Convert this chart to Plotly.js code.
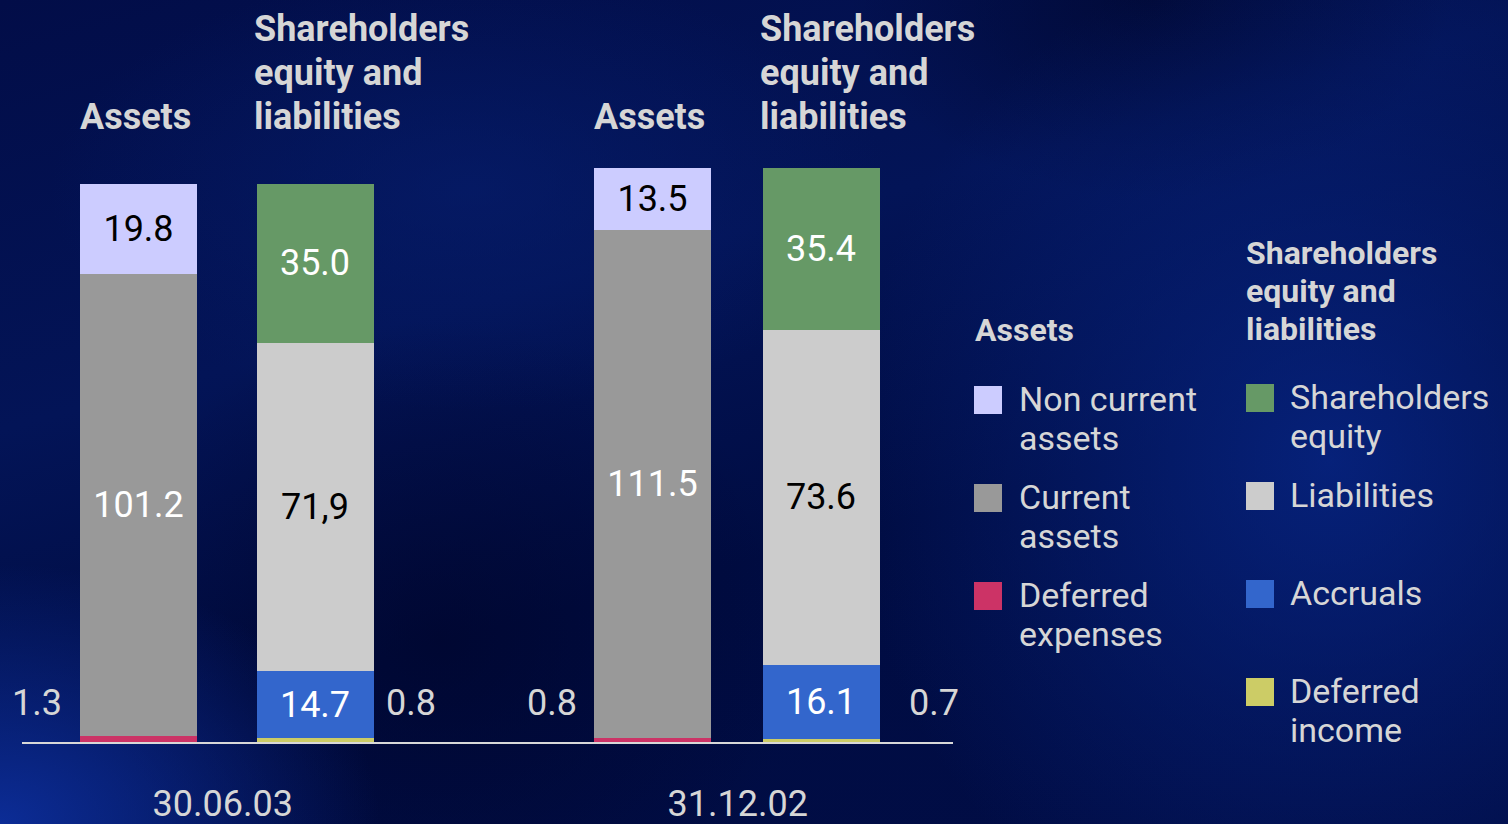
<!DOCTYPE html>
<html>
<head>
<meta charset="utf-8">
<script src="https://cdn.plot.ly/plotly-3.0.1.min.js"></script>
<style>
  html, body { margin: 0; padding: 0; width: 1508px; height: 824px; overflow: hidden; }
  body {
    background-color: #000e4c;
    background-image:
      radial-gradient(ellipse 380px 260px at 0px 824px, rgba(14,50,165,0.85), rgba(14,50,165,0) 100%),
      radial-gradient(ellipse 480px 520px at 1330px 460px, rgba(8,40,140,0.75), rgba(8,40,140,0) 100%),
      radial-gradient(ellipse 420px 220px at 470px 190px, rgba(6,30,110,0.6), rgba(6,30,110,0) 100%),
      radial-gradient(ellipse 360px 320px at 440px 640px, rgba(0,4,40,0.6), rgba(0,4,40,0) 100%),
      radial-gradient(ellipse 300px 200px at 1150px 0px, rgba(0,5,40,0.6), rgba(0,5,40,0) 100%),
      linear-gradient(165deg, #020d48 0%, #031457 35%, #000c42 62%, #010d46 100%);
  }
  #chart { width: 1508px; height: 824px; }
</style>
</head>
<body>
<div id="chart"></div>
<script>
// ---------------- data ----------------
var dates = ["30.06.03", "31.12.02"];

var nonCurrentAssets = [19.8, 13.5];
var currentAssets    = [101.2, 111.5];
var deferredExpenses = [1.3, 0.8];

var shareholdersEquity = [35.0, 35.4];
var liabilities        = [71.9, 73.6];
var accruals           = [14.7, 16.1];
var deferredIncome     = [0.8, 0.7];

var liabilitiesLabels = ["71,9", "73.6"];

var seriesNames = {
  nonCurrent: ["Non current", "assets"],
  current: ["Current", "assets"],
  defExp: ["Deferred", "expenses"],
  equity: ["Shareholders", "equity"],
  liab: ["Liabilities"],
  accr: ["Accruals"],
  defInc: ["Deferred", "income"]
};
var groupTitleAssets = ["Assets"];
var groupTitleLiab = ["Shareholders", "equity and", "liabilities"];

var colors = {
  nonCurrent: "#ccccff",
  current: "#999999",
  defExp: "#cc3366",
  equity: "#669966",
  liab: "#cccccc",
  accr: "#3366cc",
  defInc: "#cccc66"
};

// ---------------- layout geometry ----------------
var W = 1508, H = 824;
var M = {l: 22, r: 555, t: 150, b: 82};
var PW = W - M.l - M.r, PH = H - M.t - M.b;
var PX_PER_UNIT = 4.5627;
var yMax = PH / PX_PER_UNIT;

var assetsX = [138.5, 652.5];
var liabX = [315, 821];
var barW = 117;
function px(x) { return (x - M.l) / PW; }
function py(y) { return (H - M.b - y) / PH; }

var FONT = "Roboto, 'Liberation Sans', sans-serif";
var TXT = "#d6d6d6";

function fmt(v) { return v.toFixed(1); }

function barTrace(name, xs, ys, color, labels, textColor) {
  return {
    type: "bar", name: name, x: xs, y: ys, width: barW,
    marker: {color: color, line: {width: 0}},
    text: labels, textposition: labels ? "inside" : "none",
    insidetextanchor: "middle", textangle: 0, constraintext: "none",
    insidetextfont: {family: FONT, size: 36, color: textColor || "#fff"},
    hoverinfo: "name+y", showlegend: false, cliponaxis: false
  };
}

var data = [
  barTrace("Deferred expenses", assetsX, deferredExpenses, colors.defExp, null),
  barTrace("Current assets", assetsX, currentAssets, colors.current, currentAssets.map(fmt), "#ffffff"),
  barTrace("Non current assets", assetsX, nonCurrentAssets, colors.nonCurrent, nonCurrentAssets.map(fmt), "#000000"),
  barTrace("Deferred income", liabX, deferredIncome, colors.defInc, null),
  barTrace("Accruals", liabX, accruals, colors.accr, accruals.map(fmt), "#ffffff"),
  barTrace("Liabilities", liabX, liabilities, colors.liab, liabilitiesLabels, "#000000"),
  barTrace("Shareholders equity", liabX, shareholdersEquity, colors.equity, shareholdersEquity.map(fmt), "#ffffff")
];

var annotations = [];
var shapes = [];

function addText(text, x, y, size, bold, color, xanchor) {
  annotations.push({
    xref: "paper", yref: "paper", x: px(x), y: py(y),
    xanchor: xanchor || "left", yanchor: "middle", showarrow: false,
    text: bold ? "<b>" + text + "</b>" : text,
    font: {family: FONT, size: size, color: color || TXT}
  });
}

// outside labels for the thin bottom segments
var defLabelY = 703;
addText(fmt(deferredExpenses[0]), 64, defLabelY, 36, false, TXT, "right");
addText(fmt(deferredIncome[0]), 384, defLabelY, 36, false, TXT, "left");
addText(fmt(deferredExpenses[1]), 579, defLabelY, 36, false, TXT, "right");
addText(fmt(deferredIncome[1]), 907, defLabelY, 36, false, TXT, "left");

// column titles above the bars
for (var g = 0; g < 2; g++) {
  addText(groupTitleAssets[0], assetsX[g] - barW / 2 - 2, 117, 36, true);
  for (var i = 0; i < groupTitleLiab.length; i++) {
    addText(groupTitleLiab[i], liabX[g] - barW / 2 - 5, 29 + 44 * i, 36, true);
  }
}

// custom legend
addText(groupTitleAssets[0], 973, 330, 32, true);
for (var i = 0; i < groupTitleLiab.length; i++) addText(groupTitleLiab[i], 1244, 253 + 38 * i, 32, true);

function legendItem(key, sx, cy, tx) {
  shapes.push({type: "rect", xref: "paper", yref: "paper",
    x0: px(sx), x1: px(sx + 28), y0: py(cy + 14), y1: py(cy - 14),
    fillcolor: colors[key], line: {width: 0}, layer: "above"});
  var lines = seriesNames[key];
  for (var i = 0; i < lines.length; i++) addText(lines[i], tx, cy - 1 + 39 * i, 34, false);
}
legendItem("nonCurrent", 974, 400, 1017);
legendItem("current", 974, 498, 1017);
legendItem("defExp", 974, 596, 1017);
legendItem("equity", 1246, 398, 1288);
legendItem("liab", 1246, 496, 1288);
legendItem("accr", 1246, 594, 1288);
legendItem("defInc", 1246, 692, 1288);

var layout = {
  width: W, height: H,
  margin: M,
  paper_bgcolor: "rgba(0,0,0,0)",
  plot_bgcolor: "rgba(0,0,0,0)",
  barmode: "stack",
  showlegend: false,
  xaxis: {
    range: [M.l, W - M.r], showgrid: false, zeroline: false,
    showline: true, linecolor: "#d8d8d8", linewidth: 2,
    tickvals: [(assetsX[0] + liabX[0]) / 2 - 4, (assetsX[1] + liabX[1]) / 2 + 1],
    ticktext: dates, ticks: "", ticklabelstandoff: 29,
    tickfont: {family: FONT, size: 36, color: TXT}, fixedrange: true
  },
  yaxis: {
    range: [0, yMax], visible: false, fixedrange: true
  },
  annotations: annotations,
  shapes: shapes
};

Plotly.newPlot("chart", data, layout, {displayModeBar: false, staticPlot: true});
</script>
</body>
</html>
